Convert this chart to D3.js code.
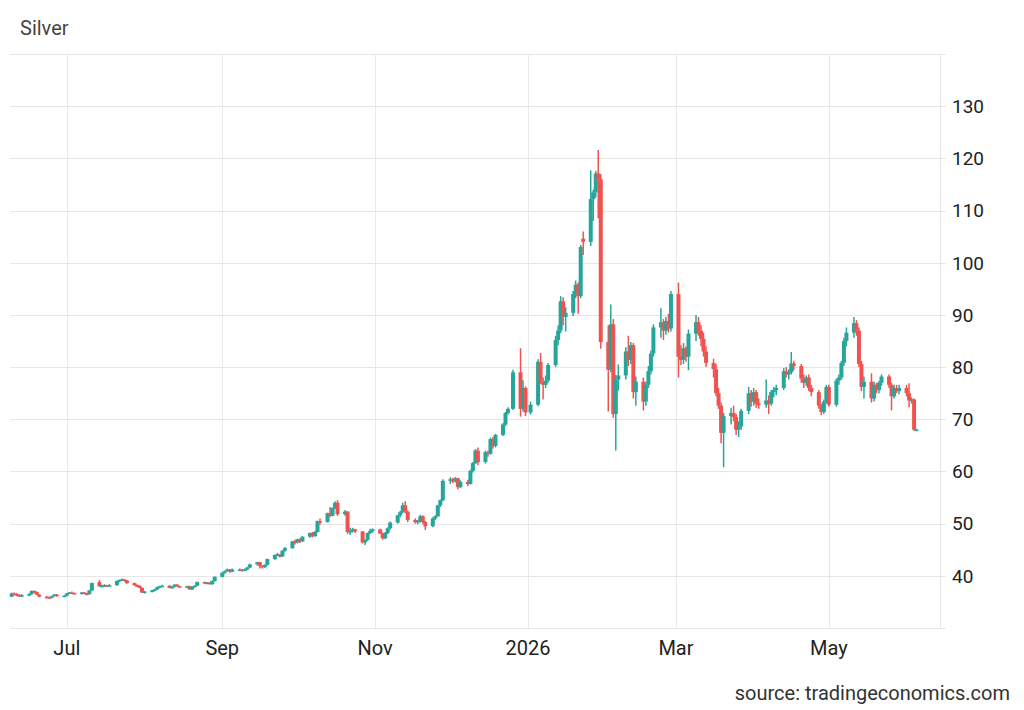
<!DOCTYPE html>
<html>
<head>
<meta charset="utf-8">
<script src="https://cdn.jsdelivr.net/npm/d3@7"></script>
<style>
body { margin: 0; background: #fff; }
svg { display: block; font-family: Roboto, "Liberation Sans", Arial, sans-serif; }
</style>
</head>
<body>
<svg id="chart" width="1024" height="710"></svg>
<script>
// daily candles: [day, open, high, low, close]
var jun25 = [
  [9, 36.0, 36.8, 35.9, 36.6], [10, 36.6, 36.8, 36.3, 36.5], [11, 36.5, 36.7, 36.1, 36.3],
  [12, 36.3, 36.5, 36.0, 36.2], [13, 36.2, 36.5, 36.0, 36.3], [16, 36.3, 36.6, 36.1, 36.5],
  [17, 36.5, 37.2, 36.4, 37.1], [18, 37.1, 37.2, 36.7, 36.9], [19, 36.9, 37.0, 36.3, 36.4],
  [20, 36.4, 36.5, 35.9, 36.0], [23, 36.0, 36.2, 35.7, 35.9], [24, 35.9, 36.0, 35.6, 35.8],
  [25, 35.8, 36.2, 35.7, 36.1], [26, 36.1, 36.5, 36.0, 36.4], [27, 36.4, 36.5, 36.0, 36.1],
  [30, 36.1, 36.3, 35.9, 36.2]
];
var jul25 = [
  [1, 36.2, 36.7, 36.1, 36.6], [2, 36.6, 36.9, 36.5, 36.8], [3, 36.8, 37.0, 36.6, 36.7],
  [4, 36.7, 36.8, 36.5, 36.6], [7, 36.6, 36.9, 36.4, 36.8], [8, 36.8, 36.9, 36.5, 36.6],
  [9, 36.6, 36.7, 36.3, 36.5], [10, 36.5, 37.3, 36.4, 37.2], [11, 37.2, 38.7, 37.1, 38.6],
  [14, 38.8, 39.2, 37.9, 38.0], [15, 38.0, 38.3, 37.8, 38.1], [16, 38.1, 38.4, 37.9, 38.2],
  [17, 38.2, 38.3, 37.9, 38.1], [18, 38.1, 38.4, 38.0, 38.2], [21, 38.2, 39.1, 38.1, 39.0],
  [22, 39.0, 39.3, 38.8, 39.2], [23, 39.2, 39.5, 39.0, 39.3], [24, 39.3, 39.4, 38.9, 39.1],
  [25, 39.1, 39.2, 38.5, 38.6], [28, 38.6, 38.7, 38.1, 38.2], [29, 38.2, 38.4, 37.9, 38.1],
  [30, 38.1, 38.2, 37.6, 37.7], [31, 37.7, 37.8, 36.7, 36.8]
];
var aug25 = [
  [1, 36.8, 37.1, 36.6, 37.0], [4, 37.0, 37.3, 36.8, 37.2], [5, 37.2, 37.5, 37.0, 37.4],
  [6, 37.4, 37.9, 37.3, 37.8], [7, 37.8, 38.1, 37.6, 38.0], [8, 38.0, 38.3, 37.9, 38.1],
  [11, 38.1, 38.2, 37.6, 37.7], [12, 37.7, 38.0, 37.5, 37.9], [13, 37.9, 38.4, 37.8, 38.3],
  [14, 38.3, 38.4, 37.9, 38.0], [15, 38.0, 38.1, 37.8, 37.9], [18, 37.9, 38.1, 37.8, 38.0],
  [19, 38.0, 38.1, 37.3, 37.4], [20, 37.4, 38.0, 37.3, 37.9], [21, 37.9, 38.2, 37.8, 38.1],
  [22, 38.1, 38.9, 38.0, 38.8], [25, 38.8, 38.9, 38.5, 38.6], [26, 38.6, 38.8, 38.4, 38.7],
  [27, 38.7, 38.8, 38.3, 38.4], [28, 38.4, 39.1, 38.3, 39.0], [29, 39.0, 39.9, 38.9, 39.8]
];
var sep25 = [
  [1, 39.8, 40.7, 39.7, 40.6], [2, 40.6, 41.0, 40.4, 40.9], [3, 40.9, 41.4, 40.8, 41.2],
  [4, 41.2, 41.3, 40.6, 40.8], [5, 40.8, 41.4, 40.7, 41.2], [8, 41.2, 41.4, 41.0, 41.2],
  [9, 41.2, 41.3, 40.8, 41.0], [10, 41.0, 41.4, 40.9, 41.2], [11, 41.2, 41.7, 41.1, 41.6],
  [12, 41.6, 42.3, 41.5, 42.2], [15, 42.2, 42.7, 42.0, 42.6], [16, 42.6, 42.7, 41.4, 41.9],
  [17, 41.9, 42.0, 41.4, 41.7], [18, 41.7, 42.2, 41.5, 42.1], [19, 42.1, 43.3, 42.0, 43.2],
  [22, 43.2, 44.1, 43.1, 44.0], [23, 44.0, 44.4, 43.8, 44.1], [24, 44.1, 44.2, 43.5, 43.7],
  [25, 43.7, 44.9, 43.6, 44.8], [26, 44.8, 45.5, 44.6, 45.3], [29, 45.3, 46.7, 45.2, 46.6],
  [30, 46.6, 46.9, 46.0, 46.4]
];
var oct25 = [
  [1, 46.4, 47.1, 46.2, 47.0], [2, 47.0, 47.2, 46.3, 46.6], [3, 46.6, 47.6, 46.5, 47.5],
  [6, 47.5, 48.3, 47.3, 48.2], [7, 48.2, 48.4, 47.4, 47.6], [8, 47.6, 48.6, 47.5, 48.4],
  [9, 48.4, 50.6, 48.3, 50.5], [10, 50.5, 51.0, 49.8, 50.3], [13, 50.3, 52.1, 50.2, 52.0],
  [14, 52.0, 53.2, 51.2, 51.5], [15, 51.5, 53.1, 51.4, 53.0], [16, 53.0, 54.3, 52.8, 54.0],
  [17, 54.0, 54.5, 51.5, 51.8], [20, 51.8, 52.6, 51.5, 52.3], [21, 52.3, 52.4, 48.0, 48.4],
  [22, 48.4, 49.2, 47.8, 48.6], [23, 48.6, 49.2, 48.3, 48.9], [24, 48.9, 49.0, 48.2, 48.5],
  [27, 48.5, 48.6, 46.2, 46.4], [28, 46.4, 47.0, 45.9, 46.9], [29, 46.9, 48.3, 46.7, 48.2],
  [30, 48.2, 49.0, 48.0, 48.6], [31, 48.6, 49.1, 48.3, 48.9]
];
var nov25 = [
  [3, 48.9, 49.0, 48.0, 48.1], [4, 48.1, 48.3, 46.9, 47.2], [5, 47.2, 48.4, 47.0, 48.2],
  [6, 48.2, 49.3, 48.0, 49.1], [7, 49.1, 50.4, 48.9, 50.2], [10, 50.2, 51.7, 50.0, 51.6],
  [11, 51.6, 52.4, 51.2, 52.2], [12, 52.2, 54.0, 52.0, 53.5], [13, 53.5, 54.3, 52.0, 52.3],
  [14, 52.3, 52.5, 50.3, 50.7], [17, 50.7, 51.0, 50.0, 50.3], [18, 50.3, 50.7, 49.9, 50.5],
  [19, 50.5, 51.7, 50.2, 51.4], [20, 51.4, 51.6, 50.0, 50.3], [21, 50.3, 50.5, 48.8, 49.5],
  [24, 49.5, 51.2, 49.3, 51.0], [25, 51.0, 51.6, 50.7, 51.4], [26, 51.4, 53.6, 51.3, 53.5],
  [27, 53.5, 54.6, 53.2, 54.5], [28, 54.5, 58.5, 54.3, 58.2]
];
var dec25 = [
  [1, 58.2, 58.9, 57.6, 58.5], [2, 58.5, 58.8, 57.8, 58.1], [3, 58.1, 58.9, 57.9, 58.7],
  [4, 58.7, 58.8, 56.6, 57.0], [5, 57.0, 58.3, 56.8, 58.0], [8, 58.0, 58.4, 57.2, 57.6],
  [9, 57.6, 60.3, 57.5, 60.1], [10, 60.1, 61.8, 59.8, 61.6], [11, 61.6, 64.3, 61.4, 64.0],
  [12, 64.0, 64.6, 61.2, 61.8], [15, 61.8, 64.0, 61.5, 63.7], [16, 63.7, 64.0, 62.8, 63.4],
  [17, 63.4, 66.5, 63.2, 66.2], [18, 66.2, 66.6, 64.4, 64.9], [19, 64.9, 67.2, 64.6, 67.0],
  [22, 67.0, 69.3, 66.8, 69.0], [23, 69.0, 71.4, 68.7, 71.2], [24, 71.2, 72.3, 70.9, 72.0],
  [26, 72.0, 79.5, 71.8, 79.0], [29, 79.0, 83.6, 70.5, 72.0], [30, 72.0, 77.5, 71.5, 76.0],
  [31, 76.0, 76.3, 70.6, 71.3]
];
var jan26 = [
  [2, 71.3, 73.4, 70.9, 72.8], [5, 72.8, 81.5, 72.5, 81.0], [6, 81.0, 82.7, 76.8, 77.2],
  [7, 77.2, 78.0, 73.8, 76.6], [8, 76.6, 78.4, 76.0, 77.4], [9, 77.4, 80.8, 77.0, 80.4],
  [12, 80.4, 86.0, 80.0, 85.2], [13, 85.2, 88.0, 84.2, 87.0], [14, 87.0, 93.6, 86.5, 92.6],
  [15, 92.6, 93.4, 88.0, 89.6], [16, 89.6, 91.5, 86.8, 90.4], [19, 90.4, 94.6, 89.8, 94.0],
  [20, 94.0, 96.6, 93.2, 95.8], [21, 95.8, 96.2, 90.2, 93.6], [22, 93.6, 103.4, 93.2, 103.0],
  [23, 104.6, 106.0, 101.5, 104.0], [26, 104.0, 117.7, 103.2, 112.2], [27, 112.2, 114.0, 108.0, 113.5],
  [28, 113.5, 117.6, 112.5, 117.1], [29, 117.1, 121.6, 108.5, 116.0], [30, 116.0, 117.0, 83.5, 84.8]
];
var feb26 = [
  [2, 84.8, 88.0, 71.5, 79.5], [3, 79.5, 92.0, 79.0, 88.2], [4, 88.2, 89.2, 70.3, 71.0],
  [5, 71.0, 78.5, 64.0, 77.6], [6, 77.6, 80.5, 75.5, 78.4], [9, 78.4, 83.8, 77.6, 83.0],
  [10, 83.0, 86.0, 80.2, 81.4], [11, 81.4, 84.8, 80.6, 84.2], [12, 84.2, 84.6, 74.0, 75.2],
  [13, 75.2, 78.2, 72.6, 77.2], [16, 77.2, 78.0, 71.7, 73.4], [17, 73.4, 77.2, 72.6, 76.6],
  [18, 76.6, 80.2, 76.0, 79.2], [19, 79.2, 83.2, 78.6, 82.6], [20, 82.6, 88.2, 82.0, 87.6],
  [23, 87.6, 91.3, 85.6, 88.6], [24, 88.6, 89.2, 85.2, 87.0], [25, 87.0, 89.6, 86.2, 88.8],
  [26, 88.8, 90.2, 86.6, 87.4], [27, 87.4, 94.6, 86.8, 94.0]
];
var mar26 = [
  [2, 94.0, 96.2, 78.0, 82.0], [3, 82.0, 84.2, 80.4, 81.4], [4, 81.4, 84.6, 80.6, 83.6],
  [5, 83.6, 84.0, 81.0, 82.0], [6, 82.0, 87.2, 79.4, 86.4], [9, 86.4, 90.0, 85.0, 88.6],
  [10, 88.6, 89.6, 86.0, 87.0], [11, 87.0, 88.0, 84.0, 85.4], [12, 85.4, 86.6, 82.0, 83.0],
  [13, 83.0, 84.0, 80.0, 80.8], [16, 80.8, 81.6, 78.0, 79.6], [17, 79.6, 80.6, 74.4, 75.0],
  [18, 75.0, 76.0, 72.0, 72.6], [19, 72.6, 73.2, 65.4, 67.4], [20, 67.4, 71.2, 60.8, 70.6],
  [23, 70.6, 72.2, 69.0, 71.2], [24, 71.2, 72.6, 69.6, 70.4], [25, 70.4, 71.0, 67.0, 68.0],
  [26, 68.0, 69.6, 66.6, 68.6], [27, 68.6, 72.0, 68.0, 71.6], [30, 71.6, 76.2, 71.0, 75.0],
  [31, 75.0, 75.6, 72.4, 73.4]
];
var apr26 = [
  [1, 73.4, 76.0, 72.6, 75.2], [2, 75.2, 75.6, 72.2, 73.0], [3, 73.0, 74.0, 72.0, 72.8],
  [6, 72.8, 77.6, 72.2, 73.6], [7, 73.6, 74.6, 71.0, 73.0], [8, 73.0, 75.6, 72.6, 75.2],
  [9, 75.2, 76.2, 74.2, 75.6], [10, 75.6, 76.6, 74.6, 76.0], [13, 76.0, 79.8, 75.6, 79.2],
  [14, 79.2, 80.0, 78.0, 78.6], [15, 78.6, 79.6, 77.6, 79.0], [16, 79.0, 82.9, 78.6, 80.7],
  [17, 80.7, 81.2, 79.4, 80.2], [20, 80.2, 80.6, 77.0, 77.8], [21, 77.8, 78.6, 76.0, 77.0],
  [22, 77.0, 78.4, 76.4, 78.0], [23, 78.0, 78.6, 75.4, 76.0], [24, 76.0, 76.6, 74.4, 75.2],
  [27, 75.2, 75.6, 72.0, 72.6], [28, 72.6, 73.0, 70.8, 71.4], [29, 71.4, 73.8, 71.0, 73.4],
  [30, 73.4, 76.6, 73.0, 76.2]
];
var may26 = [
  [1, 76.2, 76.6, 72.4, 72.8], [4, 72.8, 77.8, 72.4, 77.4], [5, 77.4, 78.6, 76.6, 78.0],
  [6, 78.0, 81.2, 77.6, 80.8], [7, 80.8, 85.6, 80.2, 85.0], [8, 85.0, 87.6, 84.0, 86.6],
  [11, 86.6, 89.6, 85.6, 88.4], [12, 88.4, 89.0, 86.0, 87.0], [13, 87.0, 87.6, 80.0, 80.6],
  [14, 80.6, 81.2, 75.4, 76.2], [15, 76.2, 78.2, 74.0, 77.2], [18, 77.2, 78.8, 73.2, 74.0],
  [19, 74.0, 77.2, 73.4, 76.6], [20, 76.6, 77.0, 75.0, 75.6], [21, 75.6, 77.4, 75.0, 77.0],
  [22, 77.0, 78.6, 76.4, 78.2], [25, 78.2, 78.6, 76.0, 76.6], [26, 76.6, 77.0, 71.7, 74.4],
  [27, 74.4, 76.6, 74.0, 76.0], [28, 76.0, 76.6, 75.0, 75.4], [29, 75.4, 76.6, 74.8, 76.0]
];
var jun26 = [
  [1, 76.0, 76.6, 74.4, 75.0], [2, 75.0, 76.9, 72.3, 73.6], [3, 73.6, 74.2, 73.0, 73.8],
  [4, 73.8, 74.0, 67.8, 68.0], [5, 68.0, 68.2, 67.9, 68.0]
];

var months = [
  [2025, 6, jun25], [2025, 7, jul25], [2025, 8, aug25], [2025, 9, sep25],
  [2025, 10, oct25], [2025, 11, nov25], [2025, 12, dec25], [2026, 1, jan26],
  [2026, 2, feb26], [2026, 3, mar26], [2026, 4, apr26], [2026, 5, may26], [2026, 6, jun26]
];

var yTicks = [40, 50, 60, 70, 80, 90, 100, 110, 120, 130];
var yGrid = [30, 40, 50, 60, 70, 80, 90, 100, 110, 120, 130, 140];
var xTicks = [
  [2025, 7, "Jul"], [2025, 9, "Sep"], [2025, 11, "Nov"],
  [2026, 1, "2026"], [2026, 3, "Mar"], [2026, 5, "May"]
];

(function() {
  var candles = [];
  months.forEach(function(m) {
    m[2].forEach(function(r) {
      candles.push({
        date: new Date(Date.UTC(m[0], m[1] - 1, r[0])),
        open: r[1], high: r[2], low: r[3], close: r[4]
      });
    });
  });

  var svg = d3.select("#chart"),
    plotLeft = 10, plotRight = 940, plotTop = 54, plotBottom = 628,
    green = "#26a69a", red = "#ef5350",
    bodyWidth = 4,
    tickDate = function(d) { return new Date(Date.UTC(d[0], d[1] - 1, 1)); };

  var x = d3.scaleUtc()
    .domain([new Date(Date.UTC(2025, 5, 8, 8)), new Date(Date.UTC(2026, 5, 14, 8))])
    .range([plotLeft, plotRight]);

  var y = d3.scaleLinear()
    .domain([30, 140])
    .range([plotBottom, plotTop]);

  // grid
  svg.append("g")
    .selectAll("line")
    .data(xTicks)
    .enter().append("line")
    .attr("x1", function(d) { return Math.round(x(tickDate(d))) + 0.5; })
    .attr("x2", function(d) { return Math.round(x(tickDate(d))) + 0.5; })
    .attr("y1", plotTop)
    .attr("y2", plotBottom)
    .attr("stroke", "#e5ecec")
    .attr("stroke-width", 1);

  svg.append("g")
    .selectAll("line")
    .data(yGrid)
    .enter().append("line")
    .attr("x1", plotLeft)
    .attr("x2", plotRight + 6)
    .attr("y1", function(d) { return Math.round(y(d)) + 0.5; })
    .attr("y2", function(d) { return Math.round(y(d)) + 0.5; })
    .attr("stroke", "#e6e6e6")
    .attr("stroke-width", 1);

  svg.append("line")
    .attr("x1", plotRight + 0.5).attr("x2", plotRight + 0.5)
    .attr("y1", plotTop).attr("y2", plotBottom)
    .attr("stroke", "#e6e6e6");

  // candles
  var cg = svg.append("g")
    .selectAll("g")
    .data(candles)
    .enter().append("g")
    .attr("fill", function(d) { return d.close >= d.open ? green : red; })
    .attr("stroke", function(d) { return d.close >= d.open ? green : red; });

  cg.append("line")
    .attr("x1", function(d) { return x(d.date); })
    .attr("x2", function(d) { return x(d.date); })
    .attr("y1", function(d) { return y(d.high); })
    .attr("y2", function(d) { return y(d.low); })
    .attr("stroke-width", 1.5);

  cg.append("rect")
    .attr("x", function(d) { return x(d.date) - bodyWidth / 2; })
    .attr("width", bodyWidth)
    .attr("y", function(d) { return y(Math.max(d.open, d.close)); })
    .attr("height", function(d) { return Math.max(1.5, Math.abs(y(d.open) - y(d.close))); })
    .attr("stroke", "none");

  // y labels
  svg.append("g")
    .selectAll("text")
    .data(yTicks)
    .enter().append("text")
    .attr("x", 952)
    .attr("y", function(d) { return y(d); })
    .attr("dy", "0.36em")
    .attr("font-size", 19)
    .attr("fill", "#222")
    .text(function(d) { return d; });

  // x labels
  svg.append("g")
    .selectAll("text")
    .data(xTicks)
    .enter().append("text")
    .attr("x", function(d) { return x(tickDate(d)); })
    .attr("y", 648)
    .attr("dy", "0.36em")
    .attr("text-anchor", "middle")
    .attr("font-size", 20)
    .attr("fill", "#222")
    .text(function(d) { return d[2]; });

  svg.append("text")
    .attr("x", 20).attr("y", 28).attr("dy", "0.36em")
    .attr("font-size", 20)
    .attr("fill", "#444")
    .text("Silver");

  svg.append("text")
    .attr("x", 1010).attr("y", 693).attr("dy", "0.36em")
    .attr("text-anchor", "end")
    .attr("font-size", 20)
    .attr("fill", "#333")
    .text("source: tradingeconomics.com");
})();
</script>
</body>
</html>
